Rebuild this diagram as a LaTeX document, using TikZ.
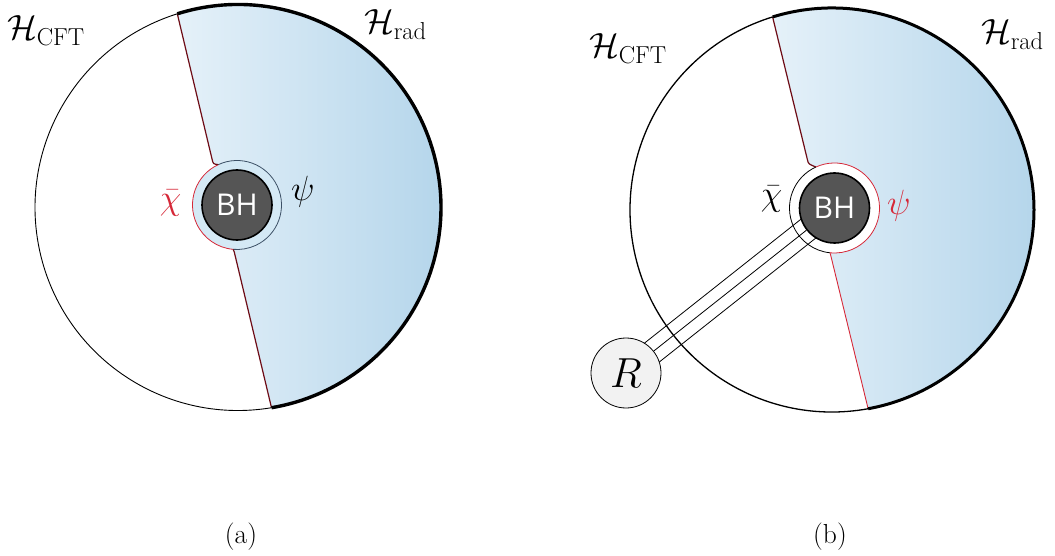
\RequirePackage{fix-cm}
\documentclass[tikz,border=0pt]{standalone}
\usepackage{fontspec}
\newfontfamily\bhfont{Open Sans}
\usetikzlibrary{calc}
\definecolor{gradL}{RGB}{229,241,249}
\definecolor{gradR}{RGB}{178,212,234}
\definecolor{ringblue}{RGB}{212,233,245}
\definecolor{maroon}{RGB}{110,12,22}
\definecolor{lred}{RGB}{214,40,56}
\definecolor{slate}{RGB}{60,80,102}
\definecolor{bhgray}{RGB}{85,85,85}
\definecolor{rgray}{RGB}{242,242,242}
\tikzset{
  bh/.style={circle, draw=black, line width=1.6pt, fill=bhgray, minimum size=70pt, inner sep=0pt, text=white, font=\bhfont\fontsize{30}{34}\selectfont},
  rnode/.style={circle, draw=black, line width=0.8pt, fill=rgray, minimum size=70pt, inner sep=0pt, font=\fontsize{42}{48}\selectfont},
  lab/.style={inner sep=0pt, font=\fontsize{35}{42}\selectfont},
  captext/.style={inner sep=0pt, font=\fontsize{27.5}{32}\selectfont},
  divline/.style={draw=maroon, line width=1.2pt},
  divred/.style={draw=lred, line width=0.9pt},
  thinarc/.style={line width=0.9pt},
  thickarc/.style={line width=3.4pt},
  ringline/.style={line width=0.8pt},
  link/.style={line width=0.8pt}
}
\begin{document}
\begin{tikzpicture}[x=1pt,y=-1pt]
\useasboundingbox (0,0) rectangle (1055,556);
% ---------------- (a) ----------------
\coordinate (Ca) at (238,207.5);
\coordinate (ca) at (237,205);
\coordinate (Ta) at ($(Ca)+(-107.4:203)$);
\coordinate (Ba) at ($(Ca)+(80.5:203)$);
\coordinate (Na1) at ($(Ta)!0.371!(Ba)$);
\coordinate (Na2) at ($(Ta)!0.6047!(Ba)$);
\coordinate (Ra1) at ($(ca)+(-115:44.5)$);
\coordinate (Ra2) at ($(ca)+(95:44.5)$);
\shade[left color=gradL, right color=gradR]
  (Ta) -- (Na1) .. controls ($(Na1)+(1,4)$) .. (Ra1)
  arc[start angle=-115, end angle=95, radius=44.5]
  -- (Na2) -- (Ba)
  arc[start angle=80.5, end angle=-107.4, radius=203] -- cycle;
\fill[ringblue] (ca) circle[radius=44.5];
\draw[ringline, slate] (Ra1) arc[start angle=-115, end angle=95, radius=44.5];
\draw[ringline, lred] (Ra1) arc[start angle=-115, end angle=-265, radius=44.5];
\draw[divline] (Ta) -- (Na1) .. controls ($(Na1)+(1,4)$) .. (Ra1);
\draw[divline] (Ra2) -- (Na2) -- (Ba);
\draw[thinarc] (Ba) arc[start angle=80.5, end angle=252.6, radius=203];
\draw[thickarc] (Ta) arc[start angle=-107.4, end angle=80.5, radius=203];
\node[bh] (BHa) at (ca) {BH};
\node[lab, text=lred] (chia) at (170.5,203) {$\bar\chi$};
\node[lab] (psia) at (303,191.5) {$\psi$};
\node[lab, anchor=base west] (hcfta) at (7,40) {$\mathcal{H}_{\mathrm{CFT}}$};
\node[lab, anchor=base west] (hrada) at (364,34) {$\mathcal{H}_{\mathrm{rad}}$};
\node[captext] (capa) at (241,537) {(a)};
% ---------------- (b) ----------------
\coordinate (Cb) at (832,210);
\coordinate (cb) at (834.5,208);
\coordinate (Tb) at ($(Cb)+(-107.1:202)$);
\coordinate (Bb) at ($(Cb)+(79.7:202)$);
\coordinate (Nb1) at ($(Tb)!0.3652!(Bb)$);
\coordinate (Nb2) at ($(Tb)!0.6077!(Bb)$);
\coordinate (Rb1) at ($(cb)+(-114.4:45)$);
\coordinate (Rb2) at ($(cb)+(95.8:45)$);
\coordinate (rc) at (626,373);
\shade[left color=gradL, right color=gradR]
  (Tb) -- (Nb1) .. controls ($(Nb1)+(1,4)$) .. (Rb1)
  arc[start angle=-114.4, end angle=95.8, radius=45]
  -- (Nb2) -- (Bb)
  arc[start angle=79.7, end angle=-107.1, radius=202] -- cycle;
\draw[ringline, lred] (Rb1) arc[start angle=-114.4, end angle=95.8, radius=45];
\draw[ringline, black] (Rb1) arc[start angle=-114.4, end angle=-264.2, radius=45];
\draw[divline] (Tb) -- (Nb1) .. controls ($(Nb1)+(1,4)$) .. (Rb1);
\draw[divred] (Rb2) -- (Nb2) -- (Bb);
\draw[thinarc, line width=1.3pt] (Bb) arc[start angle=79.7, end angle=252.9, radius=202];
\draw[thickarc, line width=3pt] (Tb) arc[start angle=-107.1, end angle=79.7, radius=202];
\node[bh] (BHb) at (cb) {BH};
\node[rnode] (Rn) at (rc) {$R$};
\coordinate (l1s) at ($(rc)+(18.38,-29.81)$);
\coordinate (l1e) at ($(cb)+(-33.26,10.97)$);
\coordinate (l3s) at ($(rc)+(33.26,-10.97)$);
\coordinate (l3e) at ($(cb)+(-18.38,29.81)$);
\draw[link] (l1s) -- (l1e);
\draw[link] (Rn) -- (BHb);
\draw[link] (l3s) -- (l3e);
\node[lab] (chib) at (771.5,199) {$\bar\chi$};
\node[lab, text=lred] (psib) at (899,205.5) {$\psi$};
\node[lab, anchor=base west] (hcftb) at (589,58) {$\mathcal{H}_{\mathrm{CFT}}$};
\node[lab, anchor=base west] (hradb) at (981,44) {$\mathcal{H}_{\mathrm{rad}}$};
\node[captext] (capb) at (830,537) {(b)};
\end{tikzpicture}
\end{document}
